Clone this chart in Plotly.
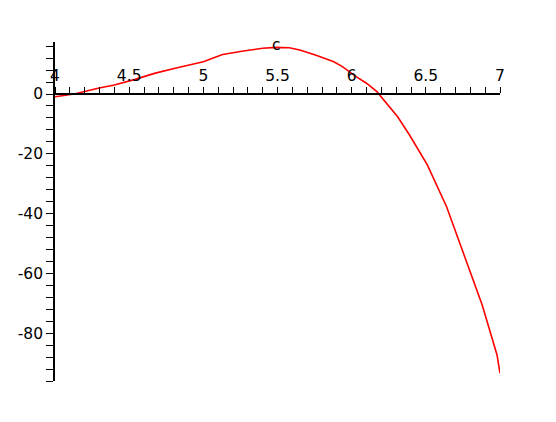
import plotly.graph_objects as go

# Curve samples
x_vals = [4.0, 4.13, 4.29, 4.40, 4.54, 4.67, 4.81, 4.92, 5.0, 5.08, 5.13, 5.27, 5.40, 5.49,
          5.58, 5.65, 5.76, 5.88, 5.94, 6.03, 6.10, 6.17, 6.26, 6.31, 6.39, 6.48, 6.51,
          6.64, 6.78, 6.88, 6.98, 7.0]
y_vals = [-0.9, 0.0, 1.9, 3.0, 4.9, 6.9, 8.6, 9.9, 10.8, 12.3, 13.2, 14.4, 15.3, 15.6,
          15.5, 14.7, 13.0, 10.8, 9.1, 5.8, 3.6, 0.8, -4.8, -7.6, -13.7, -21.5, -23.7,
          -37.7, -56.6, -70.6, -87.3, -93.4]

# Tick positions and labels
x_ticks = [round(4 + 0.1 * i, 1) for i in range(31)]
x_major = [4, 4.5, 5, 5.5, 6, 6.5, 7]
x_text = [("%g" % v) if any(abs(v - m) < 1e-9 for m in x_major) else "" for v in x_ticks]
y_ticks = list(range(-96, 17, 4))
y_text = [str(v) if v % 20 == 0 else "" for v in y_ticks]

y_min, y_max = -96, 17.4
axis_title = "c"

fig = go.Figure()
fig.add_trace(go.Scatter(x=x_vals, y=y_vals, mode="lines",
                         line=dict(color="red", width=1.6), showlegend=False))

font = dict(family="DejaVu Sans, sans-serif", size=15.5, color="black")

fig.update_layout(
    width=556, height=422,
    margin=dict(l=47, r=64, t=34, b=49, autoexpand=False),
    paper_bgcolor="white", plot_bgcolor="white",
    font=font,
    xaxis=dict(range=[4, 7], tickmode="array", tickvals=x_ticks, ticktext=x_text,
               anchor="free", position=(0 - y_min) / (y_max - y_min), side="top",
               showline=True, linecolor="black", linewidth=1.8,
               ticks="outside", ticklen=6, tickwidth=1.3, tickcolor="black",
               showgrid=False, zeroline=False, tickfont=font, automargin=False),
    yaxis=dict(range=[y_min, y_max], tickmode="array", tickvals=y_ticks, ticktext=y_text,
               showline=True, linecolor="black", linewidth=1.8,
               ticks="outside", ticklen=7, tickwidth=1.3, tickcolor="black",
               showgrid=False, zeroline=False, tickfont=font, automargin=False),
    annotations=[dict(text=axis_title, xref="paper", yref="paper", x=0.497, y=0.991,
                      xanchor="center", yanchor="middle", showarrow=False, font=font)],
)

fig.write_html("out.html")
